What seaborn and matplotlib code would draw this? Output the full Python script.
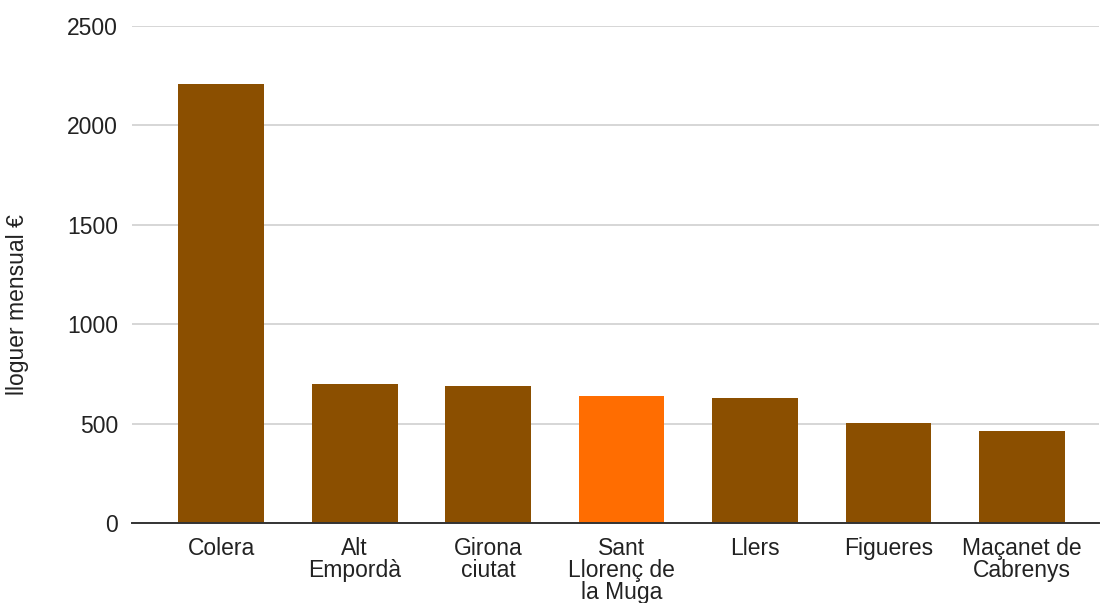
import matplotlib
matplotlib.use("Agg")
import matplotlib.pyplot as plt
import seaborn as sns
import pandas as pd

categories = ["Colera", "Alt\nEmpordà", "Girona\nciutat", "Sant\nLlorenç de\nla Muga",
              "Llers", "Figueres", "Maçanet de\nCabrenys"]
values = [2208, 698, 688, 640, 630, 503, 465]
bar_colors = ["#8B4F00", "#8B4F00", "#8B4F00", "#FF6D01", "#8B4F00", "#8B4F00", "#8B4F00"]
y_ticks = [0, 500, 1000, 1500, 2000, 2500]
y_label = "lloguer mensual €"

sns.set_theme(style="white")
plt.rcParams['font.family'] = ['Liberation Sans', 'DejaVu Sans']

df = pd.DataFrame({"cat": categories, "val": values})

fig = plt.figure(figsize=(11.01, 6.03), dpi=100)
ax = fig.add_axes([132 / 1101, 80 / 603, 967 / 1101, 497 / 603])

sns.barplot(data=df, x="cat", y="val", hue="cat", palette=bar_colors,
            legend=False, width=0.644, ax=ax, saturation=1, linewidth=0)

ax.set_ylim(0, 2500)
ax.set_xlim(-0.667, 6.577)
ax.set_yticks(y_ticks)
ax.set_yticklabels([str(t) for t in y_ticks])
ax.yaxis.grid(True, color="#cccccc", linewidth=1.1)
ax.xaxis.grid(False)
ax.set_axisbelow(True)

for s in ["top", "right", "left"]:
    ax.spines[s].set_visible(False)
ax.spines["bottom"].set_color("#333333")
ax.spines["bottom"].set_linewidth(1.4)
ax.spines["bottom"].set_zorder(5)

ax.tick_params(axis="y", length=0, pad=10, labelsize=16.5, labelcolor="#222222")
ax.tick_params(axis="x", length=0, pad=10, labelsize=16.5, labelcolor="#222222")
for lbl in ax.get_xticklabels():
    lbl.set_linespacing(0.95)

ax.set_xlabel("")
ax.set_ylabel(y_label, fontsize=16.5, color="#222222")
ax.yaxis.set_label_coords(-0.107, 0.4386)

fig.savefig("out.png", dpi=100)
